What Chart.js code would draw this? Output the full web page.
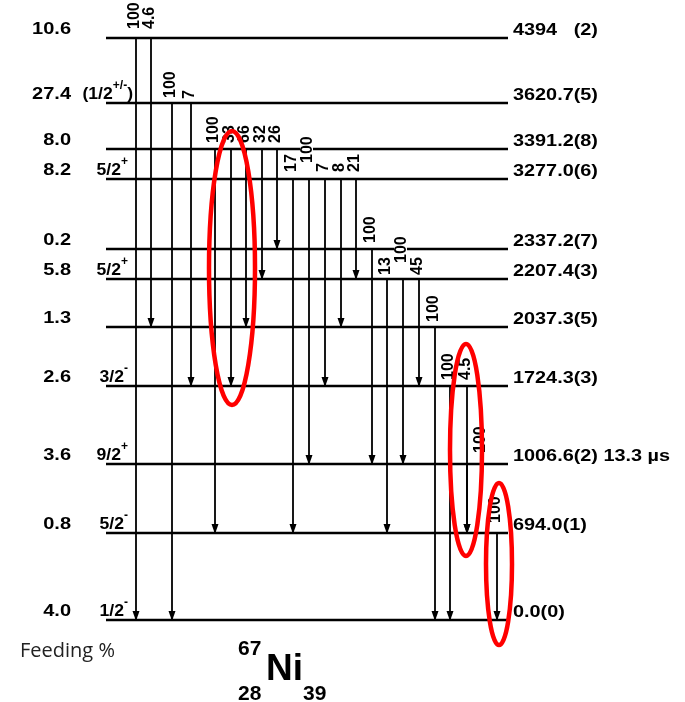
<!DOCTYPE html>
<html>
<head>
<meta charset="utf-8">
<script src="https://cdn.jsdelivr.net/npm/chart.js@4.4.0/dist/chart.umd.min.js"></script>
<style>
  html, body { margin: 0; padding: 0; background: #fff; }
  #wrap { width: 685px; height: 702px; }
</style>
</head>
<body>
<div id="wrap"><canvas id="scheme" width="685" height="702"></canvas></div>
<script>
// 67Ni levels, top to bottom
const levelEnergy = [4394, 3620.7, 3391.2, 3277.0, 2337.2, 2207.4, 2037.3, 1724.3, 1006.6, 694.0, 0.0];
const levelText = ['4394   (2)', '3620.7(5)', '3391.2(8)', '3277.0(6)', '2337.2(7)', '2207.4(3)',
  '2037.3(5)', '1724.3(3)', '1006.6(2) 13.3 µs', '694.0(1)', '0.0(0)'];
const levelFeeding = ['10.6', '27.4', '8.0', '8.2', '0.2', '5.8', '1.3', '2.6', '3.6', '0.8', '4.0'];
// spin: base | superscript | tail
const levelSpin = ['', '(1/2|+/-|)', '', '5/2|+', '', '5/2|+', '', '3/2|-', '9/2|+', '5/2|-', '1/2|-'];
// schematic height of each level in the drawing (not to energy scale)
const levelHeight = [582, 517, 471, 441, 371, 341, 293, 234, 156, 87, 0];

// gamma rays: [from, to, column, relative intensity, label gap, label shift]
const gammas = [
  [4394, 0.0, 136, '100', 9, 0],
  [4394, 2037.3, 151, '4.6', 9, 0],
  [3620.7, 0.0, 172, '100', 5, 0],
  [3620.7, 1724.3, 191, '7', 4, 0],
  [3391.2, 694.0, 215, '100', 6, 0],
  [3391.2, 1724.3, 231, '33', 6, 0],
  [3391.2, 2037.3, 246, '66', 6, 0],
  [3391.2, 2207.4, 262, '32', 6, 0],
  [3391.2, 2337.2, 277, '26', 6, 0],
  [3277.0, 694.0, 293, '17', 7, 0],
  [3277.0, 1006.6, 309, '100', 16, 0],
  [3277.0, 1724.3, 325, '7', 7, 0],
  [3277.0, 2037.3, 341, '8', 7, 0],
  [3277.0, 2207.4, 356, '21', 7, 0],
  [2337.2, 1006.6, 372, '100', 6, 0],
  [2207.4, 694.0, 387, '13', 4, 0],
  [2207.4, 1006.6, 403, '100', 16, 0],
  [2207.4, 1724.3, 419, '45', 4, 0],
  [2037.3, 0.0, 435, '100', 5, 0],
  [1724.3, 0.0, 450, '100', 6, 0],
  [1724.3, 694.0, 467, '4.5', 6, 0],
  [1006.6, 694.0, 467, '100', 11, 15],
  [694.0, 0.0, 497, '100', 10, 0]
];

const lineStart = 106;
const lineEnd = 508;

// red marks drawn over the scheme: [column, height, rx, ry]
const marks = [[232, 352, 23, 137], [466, 170, 16, 106], [499, 56, 13, 81]];

function heightOf(e) {
  return levelHeight[levelEnergy.indexOf(e)];
}

function stretchText(ctx, text, x, y, font, align, sx) {
  ctx.save();
  ctx.translate(x, y);
  ctx.scale(sx, 1);
  ctx.font = font;
  ctx.textAlign = align;
  ctx.fillText(text, 0, 0);
  ctx.restore();
}

const schemePlugin = {
  id: 'scheme',
  afterDatasetsDraw(chart) {
    const ctx = chart.ctx;
    const xs = chart.scales.x;
    const ys = chart.scales.y;
    ctx.save();
    ctx.fillStyle = '#000';
    ctx.textBaseline = 'alphabetic';

    // arrow heads
    gammas.forEach(g => {
      const px = xs.getPixelForValue(g[2]);
      const py = ys.getPixelForValue(heightOf(g[1]));
      ctx.beginPath();
      ctx.moveTo(px, py + 1);
      ctx.lineTo(px - 3.5, py - 9);
      ctx.lineTo(px + 3.5, py - 9);
      ctx.closePath();
      ctx.fill();
    });

    // intensities, rotated
    ctx.font = 'bold 16px "Liberation Sans", Arial, sans-serif';
    gammas.forEach(g => {
      const px = xs.getPixelForValue(g[2]) + 3 + g[5];
      const py = ys.getPixelForValue(heightOf(g[0])) - g[4];
      const w = ctx.measureText(g[3]).width;
      ctx.save();
      ctx.translate(px, py);
      ctx.rotate(-Math.PI / 2);
      ctx.fillStyle = '#fff';
      ctx.fillRect(-1, -12, w + 2, 13);
      ctx.fillStyle = '#000';
      ctx.textAlign = 'left';
      ctx.fillText(g[3], 0, 0);
      ctx.restore();
    });

    // level labels
    const bigFont = 'bold 16px "Liberation Sans", Arial, sans-serif';
    const supFont = 'bold 12px "Liberation Sans", Arial, sans-serif';
    levelEnergy.forEach((e, i) => {
      const py = ys.getPixelForValue(levelHeight[i]);
      stretchText(ctx, levelText[i], xs.getPixelForValue(513), py - 3, bigFont, 'left', 1.24);
      stretchText(ctx, levelFeeding[i], xs.getPixelForValue(71), py - 4.5, bigFont, 'right', 1.25);
      if (levelSpin[i]) {
        const parts = levelSpin[i].split('|');
        const base = parts[0], sup = parts[1] || '', tail = parts[2] || '';
        ctx.font = bigFont;
        const wBase = ctx.measureText(base).width * 1.1;
        const wTail = tail ? ctx.measureText(tail).width * 1.1 : 0;
        ctx.font = supFont;
        const wSup = ctx.measureText(sup).width;
        const x0 = xs.getPixelForValue(tail ? 133 : 128) - wBase - wSup - wTail;
        stretchText(ctx, base, x0, py - 4, bigFont, 'left', 1.1);
        stretchText(ctx, sup, x0 + wBase, py - 14, supFont, 'left', 1);
        if (tail) stretchText(ctx, tail, x0 + wBase + wSup, py - 4, bigFont, 'left', 1.1);
      }
    });

    // footer
    ctx.textAlign = 'left';
    ctx.fillStyle = '#222';
    ctx.font = '20px "Open Sans", "Noto Sans", sans-serif';
    ctx.fillText('Feeding %', xs.getPixelForValue(20), ys.getPixelForValue(-37));
    ctx.fillStyle = '#000';
    ctx.font = 'bold 21px "Liberation Sans", Arial, sans-serif';
    ctx.fillText('67', xs.getPixelForValue(238), ys.getPixelForValue(-35));
    ctx.fillText('28', xs.getPixelForValue(238), ys.getPixelForValue(-80));
    ctx.fillText('39', xs.getPixelForValue(303), ys.getPixelForValue(-80));
    ctx.font = 'bold 37px "Liberation Sans", Arial, sans-serif';
    ctx.fillText('Ni', xs.getPixelForValue(266), ys.getPixelForValue(-60));

    // red marks
    ctx.strokeStyle = '#f00';
    ctx.lineWidth = 4.5;
    marks.forEach(m => {
      const cx = xs.getPixelForValue(m[0]);
      const cy = ys.getPixelForValue(m[1]);
      ctx.beginPath();
      ctx.ellipse(cx, cy, m[2], m[3], 0, 0, Math.PI * 2);
      ctx.stroke();
    });
    ctx.restore();
  }
};

const levelSets = levelEnergy.map((e, i) => ({
  label: levelText[i],
  data: [{ x: lineStart, y: levelHeight[i] }, { x: lineEnd, y: levelHeight[i] }],
  showLine: true,
  borderColor: '#000',
  borderWidth: 2.5,
  pointRadius: 0
}));

const gammaSets = gammas.map(g => ({
  label: g[0] + ' -> ' + g[1],
  data: [{ x: g[2], y: heightOf(g[0]) }, { x: g[2], y: heightOf(g[1]) }],
  showLine: true,
  borderColor: '#000',
  borderWidth: 1.8,
  pointRadius: 0
}));

new Chart(document.getElementById('scheme'), {
  type: 'scatter',
  data: { datasets: levelSets.concat(gammaSets) },
  options: {
    responsive: false,
    animation: false,
    devicePixelRatio: 1,
    layout: { padding: 0 },
    plugins: {
      legend: { display: false },
      tooltip: { enabled: false }
    },
    scales: {
      x: { type: 'linear', display: false, min: 0, max: 685 },
      y: { type: 'linear', display: false, min: -82, max: 620 }
    }
  },
  plugins: [schemePlugin]
});
</script>
</body>
</html>
